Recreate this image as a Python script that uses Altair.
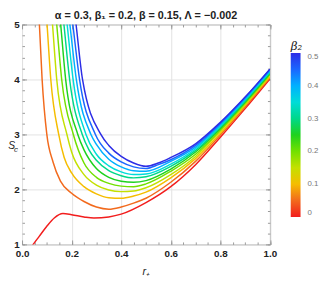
import altair as alt
import pandas as pd

# beta_2 values of the 11 curves
beta2 = [0.0, 0.05, 0.10, 0.15, 0.20, 0.25, 0.30, 0.35, 0.40, 0.45, 0.50]

r_0 = [0.03, 0.045, 0.07, 0.10, 0.13, 0.165, 0.20, 0.25, 0.29, 0.35, 0.40, 0.50, 0.60, 0.70, 0.80, 0.90, 1.00]
s_0 = [0.90, 1.00, 1.15, 1.33, 1.48, 1.56, 1.54, 1.50, 1.48, 1.50, 1.55, 1.76, 2.05, 2.45, 2.95, 3.47, 4.01]

r_1 = [0.0655, 0.070, 0.081, 0.100, 0.125, 0.155, 0.20, 0.25, 0.30, 0.35, 0.40, 0.45, 0.50, 0.60, 0.70, 0.80, 0.90, 1.00]
s_1 = [5.5, 5.0, 4.0, 3.0, 2.5, 2.15, 1.93, 1.78, 1.68, 1.64, 1.68, 1.75, 1.84, 2.13, 2.51, 2.99, 3.50, 4.03]

r_2 = [0.0935, 0.101, 0.116, 0.148, 0.17, 0.20, 0.25, 0.30, 0.35, 0.40, 0.45, 0.50, 0.60, 0.70, 0.80, 0.90, 1.00]
s_2 = [5.5, 5.0, 4.0, 3.0, 2.58, 2.30, 2.05, 1.92, 1.85, 1.84, 1.88, 1.95, 2.21, 2.56, 3.02, 3.53, 4.05]

r_3 = [0.1145, 0.123, 0.140, 0.181, 0.20, 0.25, 0.30, 0.35, 0.40, 0.45, 0.50, 0.60, 0.70, 0.80, 0.90, 1.00]
s_3 = [5.5, 5.0, 4.0, 3.0, 2.68, 2.27, 2.08, 1.99, 1.96, 1.97, 2.03, 2.27, 2.60, 3.06, 3.55, 4.08]

r_4 = [0.130, 0.140, 0.160, 0.207, 0.25, 0.30, 0.35, 0.40, 0.45, 0.50, 0.60, 0.70, 0.80, 0.90, 1.00]
s_4 = [5.5, 5.0, 4.0, 3.0, 2.48, 2.22, 2.11, 2.06, 2.05, 2.10, 2.33, 2.64, 3.08, 3.57, 4.09]

r_5 = [0.146, 0.156, 0.176, 0.225, 0.25, 0.30, 0.35, 0.40, 0.45, 0.50, 0.60, 0.70, 0.80, 0.90, 1.00]
s_5 = [5.5, 5.0, 4.0, 3.0, 2.72, 2.38, 2.22, 2.15, 2.13, 2.16, 2.37, 2.68, 3.11, 3.59, 4.11]

r_6 = [0.1575, 0.169, 0.192, 0.243, 0.27, 0.30, 0.35, 0.40, 0.45, 0.50, 0.60, 0.70, 0.80, 0.90, 1.00]
s_6 = [5.5, 5.0, 4.0, 3.0, 2.72, 2.53, 2.34, 2.25, 2.21, 2.23, 2.42, 2.71, 3.13, 3.61, 4.13]

r_7 = [0.170, 0.182, 0.206, 0.258, 0.30, 0.35, 0.40, 0.45, 0.50, 0.60, 0.70, 0.80, 0.90, 1.00]
s_7 = [5.5, 5.0, 4.0, 3.0, 2.64, 2.43, 2.32, 2.27, 2.28, 2.46, 2.74, 3.16, 3.63, 4.14]

r_8 = [0.180, 0.193, 0.219, 0.278, 0.30, 0.35, 0.40, 0.45, 0.50, 0.60, 0.70, 0.80, 0.90, 1.00]
s_8 = [5.5, 5.0, 4.0, 3.0, 2.82, 2.55, 2.41, 2.34, 2.33, 2.51, 2.77, 3.18, 3.65, 4.16]

r_9 = [0.1915, 0.205, 0.232, 0.296, 0.35, 0.40, 0.45, 0.50, 0.55, 0.60, 0.70, 0.80, 0.90, 1.00]
s_9 = [5.5, 5.0, 4.0, 3.0, 2.66, 2.50, 2.41, 2.38, 2.45, 2.54, 2.80, 3.20, 3.67, 4.18]

r_10 = [0.205, 0.218, 0.244, 0.318, 0.35, 0.40, 0.45, 0.50, 0.55, 0.60, 0.70, 0.80, 0.90, 1.00]
s_10 = [5.5, 5.0, 4.0, 3.0, 2.80, 2.60, 2.48, 2.42, 2.48, 2.58, 2.83, 3.22, 3.68, 4.19]

curve_colors = ["#f21d1d", "#f26a1d", "#f5bd00", "#c4e000", "#72e000", "#1ed21e",
                "#00d88a", "#00dcd8", "#00b0ff", "#1a66ff", "#2d2de6"]

x_major = [0.0, 0.2, 0.4, 0.6, 0.8, 1.0]
x_minor = [0.0, 0.05, 0.1, 0.15, 0.2, 0.25, 0.3, 0.35, 0.4, 0.45, 0.5,
           0.55, 0.6, 0.65, 0.7, 0.75, 0.8, 0.85, 0.9, 0.95, 1.0]
y_major = [1, 2, 3, 4, 5]
y_minor = [1.0, 1.2, 1.4, 1.6, 1.8, 2.0, 2.2, 2.4, 2.6, 2.8, 3.0, 3.2, 3.4,
           3.6, 3.8, 4.0, 4.2, 4.4, 4.6, 4.8, 5.0]
legend_values = [0.0, 0.1, 0.2, 0.3, 0.4, 0.5]
title_text = "α = 0.3, β₁ = 0.2, β = 0.15, Λ = −0.002"

curves_r = [r_0, r_1, r_2, r_3, r_4, r_5, r_6, r_7, r_8, r_9, r_10]
curves_s = [s_0, s_1, s_2, s_3, s_4, s_5, s_6, s_7, s_8, s_9, s_10]
rows = []
for b, rs, ss in zip(beta2, curves_r, curves_s):
    for r, s in zip(rs, ss):
        rows.append({"r": r, "S": s, "b2": b})
df = pd.DataFrame(rows)
dummy = pd.DataFrame({"r": [0.5], "S": [3.0]})

W, H = 252.5, 224
FONT = "Liberation Sans"
FRAME = "#9a9a9a"
INK = "#222222"

xs = alt.Scale(domain=[0, 1], nice=False, zero=False)
ys = alt.Scale(domain=[1, 5], nice=False, zero=False)

lines = alt.Chart(df).mark_line(clip=True, strokeWidth=1.5, interpolate="monotone").encode(
    x=alt.X("r:Q", scale=xs, axis=alt.Axis(
        orient="bottom", values=x_major, format=".1f", ticks=False, tickSize=0,
        domain=False, grid=True, gridColor="#e2e2e2", gridWidth=1,
        labelFont=FONT, labelFontSize=10, labelFontWeight="bold", labelColor=INK,
        labelPadding=4, labelFlush=False, title=None)),
    y=alt.Y("S:Q", scale=ys, axis=alt.Axis(
        orient="left", values=y_major, format="d", ticks=False, tickSize=0,
        domain=False, grid=True, gridColor="#e2e2e2", gridWidth=1,
        labelFont=FONT, labelFontSize=10, labelFontWeight="bold", labelColor=INK,
        labelPadding=3, labelFlush=False, title=None)),
    color=alt.Color("b2:Q", scale=alt.Scale(domain=[0, 0.5], range=curve_colors),
                    legend=alt.Legend(
                        title="β₂", orient="none", legendX=273.7, legendY=17,
                        direction="vertical", gradientLength=167, gradientThickness=10,
                        gradientStrokeWidth=0, values=legend_values,
                        labelExpr="datum.value == 0 ? '0' : format(datum.value, '.1f')",
                        labelFont=FONT, labelFontSize=8, labelColor="#777777",
                        labelOffset=7, labelOverlap=False,
                        titleFont="DejaVu Serif", titleFontSize=12, titleFontStyle="italic",
                        titleFontWeight="normal", titleColor=INK, titlePadding=0)),
    detail="b2:N",
)


def tick_layer(xvals, yvals, size, x_orient, y_orient):
    common = dict(labels=False, domain=False, grid=False, ticks=True, tickSize=size,
                  tickColor=FRAME, tickWidth=1, title=None)
    return alt.Chart(dummy).mark_point(opacity=0).encode(
        x=alt.X("r:Q", scale=xs, axis=alt.Axis(orient=x_orient, offset=-H, values=xvals, **common)),
        y=alt.Y("S:Q", scale=ys, axis=alt.Axis(orient=y_orient, offset=-W, values=yvals, **common)),
    )


t1 = tick_layer(x_major, y_major, 4.5, "top", "right")
t2 = tick_layer(x_major, y_major, 4.5, "bottom", "left")
t3 = tick_layer(x_minor, y_minor, 2.5, "top", "right")
t4 = tick_layer(x_minor, y_minor, 2.5, "bottom", "left")

title_mark = alt.Chart(dummy).mark_text(
    text=title_text, font=FONT, fontSize=11, fontWeight="bold", color=INK, baseline="middle"
).encode(x=alt.value(W / 2), y=alt.value(-9))
s_main = alt.Chart(dummy).mark_text(text="S", font=FONT, fontSize=10.5, fontStyle="italic",
                                    color=INK, baseline="middle").encode(
    x=alt.value(-10.5), y=alt.value(124))
s_sub = alt.Chart(dummy).mark_text(text="c", font=FONT, fontSize=8, fontStyle="italic",
                                   color=INK, baseline="middle").encode(
    x=alt.value(-6.3), y=alt.value(127.5))
r_lab = alt.Chart(dummy).mark_text(text="r₊", font=FONT, fontSize=11, fontStyle="italic",
                                   color=INK, baseline="middle").encode(
    x=alt.value(126.5), y=alt.value(28 + H))

chart = alt.layer(lines, t1, t2, t3, t4, title_mark, s_main, s_sub, r_lab).resolve_axis(
    x="independent", y="independent"
).properties(
    width=W, height=H,
    autosize=alt.AutoSizeParams(type="none"),
    padding={"left": 14.3, "top": 14.3, "right": 50, "bottom": 30},
).configure_view(stroke=FRAME, strokeWidth=1)

chart.save("out.html", embed_options={"renderer": "svg", "actions": False})
